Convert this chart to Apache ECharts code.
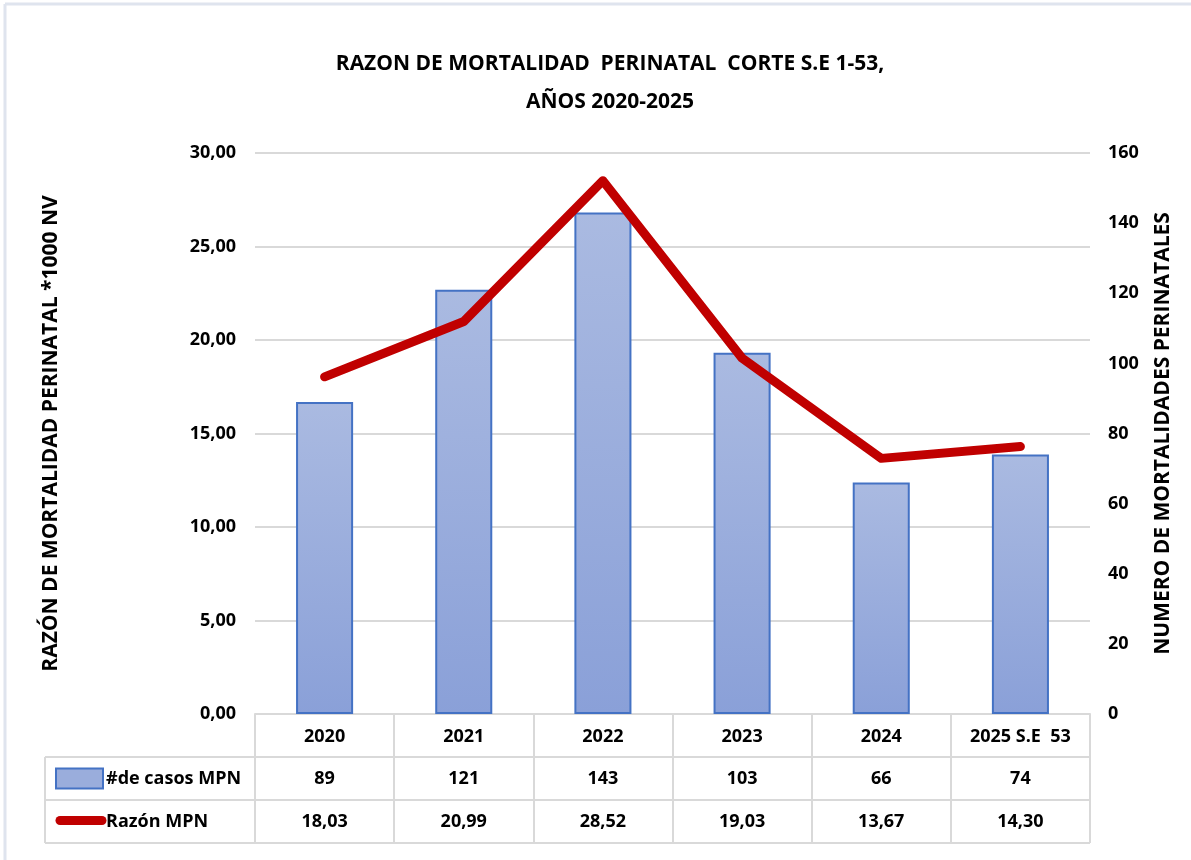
<!DOCTYPE html>
<html lang="es">
  <head>
    <meta charset="utf-8" />
    <style>
      html, body { margin: 0; width: 100%; height: 100%; background: #fff; }
      #container { width: 1191px; height: 860px; }
    </style>
    <script src="https://cdn.jsdelivr.net/npm/echarts@6/dist/echarts.min.js"></script>
  </head>
  <body>
    <div id="container"></div>
    <script>
      // datos
      var years = ["2020", "2021", "2022", "2023", "2024", "2025 S.E  53"];
      var casos = [89, 121, 143, 103, 66, 74];
      var razon = [18.03, 20.99, 28.52, 19.03, 13.67, 14.3];
      var leftTicks = [0, 30, 5];   // min, max, interval
      var rightTicks = [0, 160, 20];

      var NARROW = "'Liberation Sans Narrow', 'Open Sans', sans-serif";
      var WIDE = "'Open Sans', sans-serif";
      var GRID = { left: 255, right: 1090, top: 153, bottom: 714 };
      var ROW = 43;

      function fmt(v) {
        return v.toFixed(2).replace(".", ",");
      }

      var chart = echarts.init(document.getElementById("container"));

      var nameStyle = { fontFamily: WIDE, fontSize: 21, fontWeight: "bold", color: "#000" };

      var option = {
        backgroundColor: "#fff",
        animation: false,
        title: {
          text: "RAZON DE MORTALIDAD  PERINATAL  CORTE S.E 1-53,\nAÑOS 2020-2025",
          left: 605,
          top: 40,
          textAlign: "center",
          textStyle: { fontFamily: NARROW, fontSize: 21, fontWeight: "bold", color: "#000", lineHeight: 38 }
        },
        grid: {
          left: GRID.left,
          right: 1191 - GRID.right,
          top: GRID.top,
          bottom: 860 - GRID.bottom
        },
        xAxis: {
          type: "category",
          data: years,
          axisLine: { lineStyle: { color: "#d9d9d9", width: 2 } },
          axisTick: { show: true, interval: 0, length: ROW * 3, lineStyle: { color: "#d9d9d9", width: 2 } },
          axisLabel: { margin: 14, interval: 0, fontFamily: NARROW, fontSize: 18, fontWeight: "bold", color: "#000" }
        },
        yAxis: [
          {
            type: "value",
            min: leftTicks[0],
            max: leftTicks[1],
            interval: leftTicks[2],
            name: "RAZÓN DE MORTALIDAD PERINATAL *1000 NV",
            nameLocation: "middle",
            nameGap: 193,
            nameRotate: 90,
            nameTextStyle: nameStyle,
            axisLine: { show: false },
            axisTick: { show: false },
            axisLabel: { margin: 19, formatter: fmt, fontFamily: NARROW, fontSize: 18, fontWeight: "bold", color: "#000" },
            splitLine: { lineStyle: { color: "#d9d9d9", width: 2 } }
          },
          {
            type: "value",
            min: rightTicks[0],
            max: rightTicks[1],
            interval: rightTicks[2],
            name: "NUMERO DE MORTALIDADES PERINATALES",
            nameLocation: "middle",
            nameGap: 63,
            nameRotate: 90,
            nameTextStyle: nameStyle,
            axisLine: { show: false },
            axisTick: { show: false },
            axisLabel: { margin: 18, fontFamily: NARROW, fontSize: 18, fontWeight: "bold", color: "#000" },
            splitLine: { show: false }
          }
        ],
        series: [
          {
            name: "#de casos MPN",
            type: "bar",
            yAxisIndex: 1,
            data: casos,
            barWidth: "41%",
            itemStyle: {
              color: new echarts.graphic.LinearGradient(0, 0, 0, 1, [
                { offset: 0, color: "#aabae1" },
                { offset: 1, color: "#8aa0d8" }
              ]),
              borderColor: "#4472c4",
              borderWidth: 2
            }
          },
          {
            name: "Razón MPN",
            type: "line",
            yAxisIndex: 0,
            data: razon,
            symbol: "none",
            lineStyle: { color: "#c00000", width: 9, cap: "round", join: "round" },
            z: 5
          }
        ]
      };
      chart.setOption(option);

      // tabla de datos bajo el eje
      var colW = (GRID.right - GRID.left) / years.length;
      var tableLeft = 45;
      var gfx = [];
      var lineStyle = { stroke: "#d9d9d9", lineWidth: 2 };
      [1, 2, 3].forEach(function (i) {
        var y = GRID.bottom + ROW * i;
        gfx.push({ type: "line", shape: { x1: tableLeft, y1: y, x2: GRID.right, y2: y }, style: lineStyle });
      });
      gfx.push({ type: "line", shape: { x1: tableLeft, y1: GRID.bottom + ROW, x2: tableLeft, y2: GRID.bottom + ROW * 3 }, style: lineStyle });

      var textBase = { fontFamily: NARROW, fontSize: 18, fontWeight: "bold", fill: "#000" };
      function cellText(txt, x, y, align) {
        return {
          type: "text",
          x: x,
          y: y,
          style: Object.assign({ text: txt, align: align || "center", verticalAlign: "middle" }, textBase)
        };
      }
      years.forEach(function (yr, i) {
        var cx = GRID.left + colW * (i + 0.5);
        gfx.push(cellText(String(casos[i]), cx, GRID.bottom + ROW * 1.5));
        gfx.push(cellText(fmt(razon[i]), cx, GRID.bottom + ROW * 2.5));
      });

      // claves de la leyenda
      var r1 = GRID.bottom + ROW * 1.5;
      var r2 = GRID.bottom + ROW * 2.5;
      gfx.push({
        type: "rect",
        shape: { x: 56, y: r1 - 10, width: 47, height: 20 },
        style: { fill: "#9aaddc", stroke: "#4472c4", lineWidth: 2 }
      });
      gfx.push(cellText("#de casos MPN", 106, r1, "left"));
      gfx.push({
        type: "line",
        shape: { x1: 60, y1: r2 - 1, x2: 102, y2: r2 - 1 },
        style: { stroke: "#c00000", lineWidth: 9, lineCap: "round" }
      });
      gfx.push(cellText("Razón MPN", 106, r2, "left"));

      // marco exterior
      gfx.push({ type: "line", shape: { x1: 5, y1: 4, x2: 1191, y2: 4 }, style: { stroke: "#dfe4ee", lineWidth: 3 } });
      gfx.push({ type: "line", shape: { x1: 5, y1: 4, x2: 5, y2: 860 }, style: { stroke: "#dfe4ee", lineWidth: 3 } });

      chart.setOption({ graphic: gfx });
    </script>
  </body>
</html>
